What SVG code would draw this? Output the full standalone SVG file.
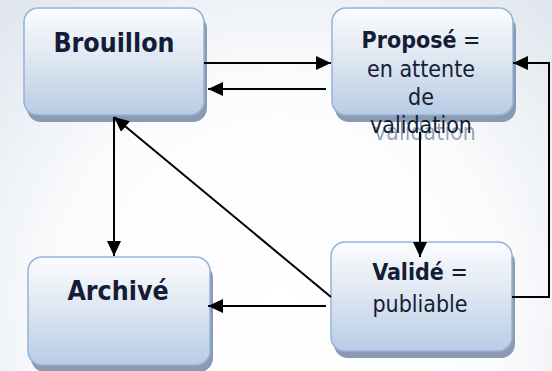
<svg xmlns="http://www.w3.org/2000/svg" width="552" height="371" viewBox="0 0 552 371">
  <defs>
    <radialGradient id="bg" cx="280" cy="300" r="480" gradientUnits="userSpaceOnUse">
      <stop offset="0" stop-color="#ffffff"/>
      <stop offset="0.45" stop-color="#fbfcfd"/>
      <stop offset="1" stop-color="#d5dde8"/>
    </radialGradient>
    <linearGradient id="boxfill" x1="0" y1="0" x2="0" y2="1">
      <stop offset="0" stop-color="#fbfcfe"/>
      <stop offset="0.45" stop-color="#e0e8f2"/>
      <stop offset="1" stop-color="#b8cce4"/>
    </linearGradient>
    <filter id="blur" x="-10%" y="-10%" width="120%" height="130%">
      <feGaussianBlur stdDeviation="0.7"/>
    </filter>
    <marker id="arrow" viewBox="0 0 15 14" refX="15" refY="7" markerWidth="15" markerHeight="14" markerUnits="userSpaceOnUse" orient="auto">
      <path d="M0,0 L15,7 L0,14 Z" fill="#000"/>
    </marker>
  </defs>
  <style>
    .box { fill: url(#boxfill); stroke: #95b3d7; stroke-width: 1.5; }
    .shadow { fill: #8a9ab1; filter: url(#blur); }
    .t { font-family: "DejaVu Sans Condensed", "DejaVu Sans", Verdana, sans-serif; font-stretch: condensed; fill: #131d36; text-anchor: middle; }
    .b { font-weight: bold; }
    .ghost { font-family: "DejaVu Sans Condensed", "DejaVu Sans", Verdana, sans-serif; font-stretch: condensed; fill: #97a5b9; text-anchor: middle; font-size: 23px; filter: url(#blur); }
    .c { fill: none; stroke: #000; stroke-width: 2; }
  </style>
  <rect width="552" height="371" fill="url(#bg)"/>

  <g id="brouillon">
    <rect class="shadow" x="27" y="15" width="180" height="107" rx="14"/>
    <rect class="box" x="24" y="8" width="180" height="107" rx="14"/>
    <text class="t b" x="114" y="52" font-size="26.5">Brouillon</text>
  </g>

  <g id="propose">
    <rect class="shadow" x="335" y="15" width="181" height="107" rx="14"/>
    <text class="ghost" x="425" y="140">validation</text>
    <rect class="box" x="332" y="8" width="181" height="107" rx="14"/>
    <text class="t" x="421" y="48" font-size="23"><tspan class="b">Proposé</tspan> =</text>
    <text class="t" x="421" y="77" font-size="23">en attente</text>
    <text class="t" x="421" y="105" font-size="23">de</text>
    <text class="t" x="421" y="133" font-size="23">validation</text>
  </g>

  <g id="archive">
    <rect class="shadow" x="31" y="264" width="182" height="108" rx="14"/>
    <rect class="box" x="28" y="257" width="182" height="108" rx="14"/>
    <text class="t b" x="118" y="300" font-size="26.5">Archivé</text>
  </g>

  <g id="valide">
    <rect class="shadow" x="334" y="249" width="181" height="109" rx="14"/>
    <rect class="box" x="331" y="242" width="181" height="109" rx="14"/>
    <text class="t" x="420" y="280" font-size="23"><tspan class="b">Validé</tspan> =</text>
    <text class="t" x="420" y="312" font-size="23">publiable</text>
  </g>

  <g id="connectors">
    <line class="c" x1="204" y1="63" x2="331" y2="63" marker-end="url(#arrow)"/>
    <line class="c" x1="326" y1="89" x2="208" y2="89" marker-end="url(#arrow)"/>
    <line class="c" x1="114" y1="117" x2="114" y2="256" marker-end="url(#arrow)"/>
    <line class="c" x1="331" y1="297" x2="114" y2="117" marker-end="url(#arrow)"/>
    <line class="c" x1="326" y1="306" x2="208" y2="306" marker-end="url(#arrow)"/>
    <line class="c" x1="420" y1="132" x2="420" y2="257" marker-end="url(#arrow)"/>
    <polyline class="c" points="512,297 549,297 549,63 513,63" marker-end="url(#arrow)"/>
  </g>
</svg>
